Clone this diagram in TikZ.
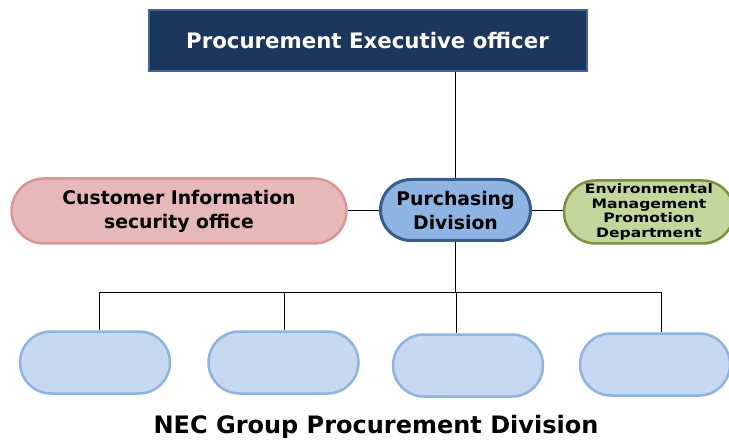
\documentclass[tikz,border=0pt]{standalone}
\usepackage{fontspec}
\setmainfont{DejaVu Sans}
\newfontfamily\widefont[FakeStretch=1.2]{DejaVu Sans}
\usetikzlibrary{shapes.misc}
\definecolor{navyfill}{RGB}{28,55,94}
\definecolor{navydraw}{RGB}{70,100,145}
\definecolor{pinkfill}{RGB}{230,184,183}
\definecolor{pinkdraw}{RGB}{217,150,148}
\definecolor{bluefill}{RGB}{141,180,226}
\definecolor{bluedraw}{RGB}{56,93,138}
\definecolor{greenfill}{RGB}{195,214,155}
\definecolor{greendraw}{RGB}{119,147,60}
\definecolor{palefill}{RGB}{198,217,241}
\definecolor{paledraw}{RGB}{141,180,226}
\tikzset{
  officer/.style={
    rectangle, fill=navyfill, draw=navydraw, line width=2pt,
    text=white, font=\fontsize{21.3}{24}\selectfont\bfseries,
    minimum width=438pt, minimum height=61pt
  },
  unit/.style={
    rounded rectangle, line width=2.5pt, align=center,
    font=\fontsize{18.8}{24}\selectfont\bfseries,
    minimum height=63pt, inner sep=0pt
  },
  member/.style={
    unit, fill=palefill, draw=paledraw,
    minimum width=150pt, minimum height=62pt
  },
  link/.style={draw=black, line width=0.8pt}
}

\begin{document}
\begin{tikzpicture}[x=1pt,y=-1pt]
\useasboundingbox (0,0) rectangle (729,441);
\node[officer] (exec) at (367.5,41) {Procurement Executive officer};

\node[unit, fill=pinkfill, draw=pinkdraw, minimum width=335pt, minimum height=65pt]
  (custinfo) at (179,211) {Customer Information\\security office};
\node[unit, fill=bluefill, draw=bluedraw, line width=3pt, minimum width=150pt, minimum height=61pt]
  (purchasing) at (455.5,210) {Purchasing\\Division};
\node[unit, fill=greenfill, draw=greendraw, minimum width=170pt,
  font=\widefont\fontsize{13}{14.6}\selectfont\bfseries]
  (envmgmt) at (649,212) {Environmental\\Management\\Promotion\\Department};

\node[member] (grp1) at (95,362.5) {};
\node[member] (grp2) at (283.5,362.5) {};
\node[member] (grp3) at (468,365.5) {};
\node[member] (grp4) at (655,364.5) {};

\node[font=\fontsize{24}{28}\selectfont\bfseries] (title) at (376,427)
  {NEC Group Procurement Division};

% connectors
\coordinate (bus1) at (99,292);
\coordinate (bus2) at (284,292);
\coordinate (bus3) at (456,292);
\coordinate (bus4) at (661,292);
\path[link] (purchasing.north |- exec.south) -- (purchasing.north);
\path[link] (purchasing.south) -- (purchasing.south |- bus3);
\path[link] (purchasing.west -| custinfo.east) -- (purchasing.west);
\path[link] (purchasing.east) -- (purchasing.east -| envmgmt.west);
\path[link] (bus1) -- (bus4);
\path[link] (bus1) -- (bus1 |- grp1.north);
\path[link] (bus2) -- (bus2 |- grp2.north);
\path[link] (bus3) -- (bus3 |- grp3.north);
\path[link] (bus4) -- (bus4 |- grp4.north);
\end{tikzpicture}
\end{document}
